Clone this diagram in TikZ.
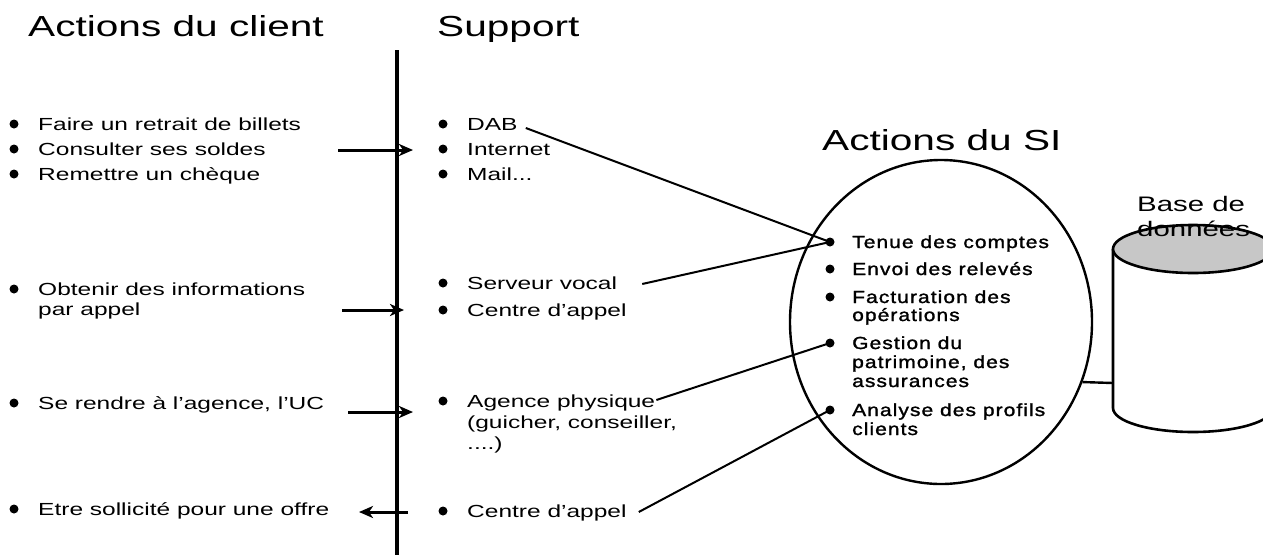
\documentclass[tikz,border=0pt]{standalone}
\usepackage{fontspec}
\setmainfont{Liberation Sans}[FakeStretch=1.4]
\newfontfamily\sifont{Liberation Sans}[FakeStretch=1.2,LetterSpace=6,FakeBold=1.5]
\usetikzlibrary{arrows.meta,calc,shapes.geometric}

\tikzset{
  txt/.style={anchor=base west, inner sep=0pt, font=\fontsize{17.5}{21}\selectfont},
  ttl/.style={anchor=base west, inner sep=0pt, font=\fontsize{29}{34}\selectfont},
  sitxt/.style={anchor=base west, inner sep=0pt, font=\sifont\fontsize{17.5}{20}\selectfont},
  dbtxt/.style={anchor=base west, inner sep=0pt, font=\fontsize{21}{25}\selectfont},
  dot/.style={circle, fill=black, inner sep=0pt, minimum size=9pt},
  flow/.style={line width=3pt, -{Stealth[length=14pt,width=12pt,inset=4pt]}},
  link/.style={line width=2pt},
}

\begin{document}
\begin{tikzpicture}[x=1pt,y=-1pt]
\useasboundingbox (0,0) rectangle (1263,555);

% column titles
\node[ttl] (tclient) at (28,36) {Actions du client};
\node[ttl] (tsupport) at (437,36) {Support};
\node[ttl] (tsi) at (822,150) {Actions du SI};

% separation between client and channels
\coordinate (sepTop) at (397,50);
\coordinate (sepBot) at (397,555);
\draw[line width=3.2pt] (sepTop) -- (sepBot);

% client actions
\node[dot] (bc1) at (14,124) {};
\node[txt] (c1) at (38,130) {Faire un retrait de billets};
\node[dot] (bc2) at (14,149) {};
\node[txt] (c2) at (38,155) {Consulter ses soldes};
\node[dot] (bc3) at (14,174) {};
\node[txt] (c3) at (38,180) {Remettre un chèque};
\node[dot] (bc4) at (14,289) {};
\node[txt] (c4a) at (38,295) {Obtenir des informations};
\node[txt] (c4b) at (38,315) {par appel};
\node[dot] (bc5) at (14,403) {};
\node[txt] (c5) at (38,409) {Se rendre à l’agence, l’UC};
\node[dot] (bc6) at (14,509) {};
\node[txt] (c6) at (38,515) {Etre sollicité pour une offre};

% channels
\node[dot] (bs1) at (443,124) {};
\node[txt] (dab) at (467,130) {DAB};
\node[dot] (bs2) at (443,149) {};
\node[txt] (web) at (467,155) {Internet};
\node[dot] (bs3) at (443,174) {};
\node[txt] (mail) at (467,180) {Mail...};
\node[dot] (bs4) at (443,283) {};
\node[txt] (vocal) at (467,289) {Serveur vocal};
\node[dot] (bs5) at (443,310) {};
\node[txt] (appel) at (467,316) {Centre d’appel};
\node[dot] (bs6) at (443,401) {};
\node[txt] (agence) at (467,407) {Agence physique};
\node[txt] (agenceb) at (467,428) {(guicher, conseiller,};
\node[txt] (agencec) at (467,449) {....)};
\node[dot] (bs7) at (443,511) {};
\node[txt] (appelout) at (467,517) {Centre d’appel};

% flows across the separation
\coordinate (f1a) at (338,150); \coordinate (f1b) at (413,150);
\coordinate (f2a) at (342,310); \coordinate (f2b) at (404,310);
\coordinate (f3a) at (348,412); \coordinate (f3b) at (413,412);
\coordinate (f4a) at (408,512); \coordinate (f4b) at (359,512);
\draw[flow] (f1a) -- (f1b);
\draw[flow] (f2a) -- (f2b);
\draw[flow] (f3a) -- (f3b);
\draw[flow] (f4a) -- (f4b);

% information system
\node[ellipse, draw, line width=2.4pt, minimum width=302pt, minimum height=324pt, inner sep=0pt] (si) at (941,322) {};
\node[dot] (si1) at (830,242) {};
\node[sitxt] (s1) at (852,248) {Tenue des comptes};
\node[dot] (si2) at (830,269) {};
\node[sitxt] (s2) at (852,275) {Envoi des relevés};
\node[dot] (si3) at (830,297) {};
\node[sitxt] (s3a) at (852,303) {Facturation des};
\node[sitxt] (s3b) at (852,321) {opérations};
\node[dot] (si4) at (830,343) {};
\node[sitxt] (s4a) at (852,349) {Gestion du};
\node[sitxt] (s4b) at (852,368) {patrimoine, des};
\node[sitxt] (s4c) at (852,387) {assurances};
\node[dot] (si5) at (830,410) {};
\node[sitxt] (s5a) at (852,416) {Analyse des profils};
\node[sitxt] (s5b) at (852,435) {clients};

% links from channels to processes
\draw[link] ($(dab.base east)+(8,-2)$) -- (si1.center);
\draw[link] ($(vocal.base east)+(25,-5)$) -- (si1.center);
\draw[link] ($(agence.base east)+(1,-7)$) -- (si4.center);
\draw[link] ($(appelout.base east)+(12,-5)$) -- (si5.center);

% database
\begin{scope}
\clip (0,0) rectangle (1263,555);
\draw[line width=2.6pt, fill=white] (1113,249) -- (1113,408)
  arc[start angle=180, end angle=0, x radius=80, y radius=24] -- (1273,249);
\draw[line width=2.6pt, fill=black!22] (1193,249) ellipse[x radius=80, y radius=24];
\end{scope}
\coordinate (dbL) at (1113,383);
\draw[line width=2.4pt] (si.-23.5) -- (dbL);
\node[dbtxt] (db1) at (1137,211) {Base de};
\node[dbtxt] (db2) at (1137,236) {données};
\end{tikzpicture}
\end{document}
